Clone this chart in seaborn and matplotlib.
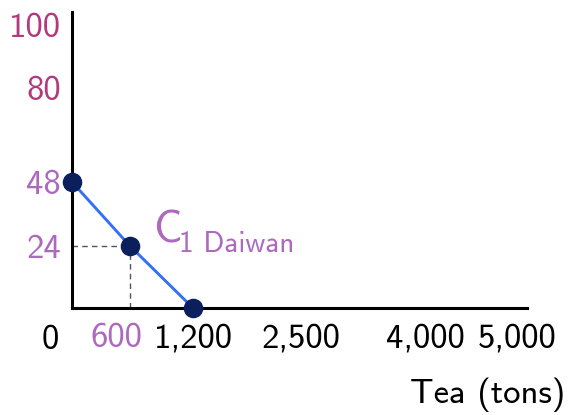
import numpy as np
import matplotlib
matplotlib.use("Agg")
import matplotlib.pyplot as plt
import matplotlib.transforms as mtransforms
import seaborn as sns

# Daiwan production points (tea in tons vs. the other good)
tea_tons = [0, 600, 1200]
other_good = [48, 24, 0]

x_ticks = [600, 1200, 2500, 4000, 5000]
x_labels = ["600", "1,200", "2,500", "4,000", "5,000"]
y_ticks = [24, 48, 80, 100]
y_labels = ["24", "48", "80", "100"]

# the original axes are schematic (not linear) -> piecewise scale
x_knots = [0, 600, 1200, 2500, 4000, 5000, 5100]
x_place = [0, 58, 121, 229, 353, 445, 455]
y_knots = [0, 24, 48, 80, 100, 105]
y_place = [0, 62, 126, 220, 283, 296]

pink = "#B23A7C"
orchid = "#AD69BE"
navy = "#0A1F5C"
blue = "#3370F5"

sns.set_style("white")
plt.rcParams['font.family'] = ['cmss10', 'DejaVu Sans']
plt.rcParams['axes.unicode_minus'] = False
plt.rcParams['text.color'] = 'black'

fig = plt.figure(figsize=(5.69, 4.15), dpi=100)
ax = fig.add_axes([72 / 569, 107 / 415, 455 / 569, 296 / 415])

# guide lines to the middle point
ax.plot([0, tea_tons[1]], [other_good[1], other_good[1]], ls=(0, (4, 3)),
        color="#555555", lw=1)
ax.plot([tea_tons[1], tea_tons[1]], [0, other_good[1]], ls=(0, (4, 3)),
        color="#555555", lw=1)

sns.lineplot(x=tea_tons, y=other_good, color=blue, lw=2.1, ax=ax)
sns.scatterplot(x=tea_tons, y=other_good, s=170, color=navy, edgecolor=navy,
                zorder=5, clip_on=False, ax=ax)

ax.set_xscale('function', functions=(lambda v: np.interp(v, x_knots, x_place),
                                     lambda v: np.interp(v, x_place, x_knots)))
ax.set_yscale('function', functions=(lambda v: np.interp(v, y_knots, y_place),
                                     lambda v: np.interp(v, y_place, y_knots)))
ax.set_xlim(0, 5100)
ax.set_ylim(0, 105)

ax.set_xticks(x_ticks, x_labels)
ax.set_yticks(y_ticks, y_labels)
ax.tick_params(axis='x', length=0, labelsize=25, pad=11)
ax.tick_params(axis='y', length=0, labelsize=25, pad=8)
ax.minorticks_off()

for lbl in ax.get_xticklabels():
    lbl.set_color(orchid if lbl.get_text() == "600" else "black")
    if lbl.get_text() == "600":
        lbl.set_transform(lbl.get_transform() +
                          mtransforms.ScaledTranslation(-0.14, 0, fig.dpi_scale_trans))
for lbl in ax.get_yticklabels():
    lbl.set_color(pink if lbl.get_text() in ("80", "100") else orchid)

sns.despine(ax=ax)
for side in ['left', 'bottom']:
    ax.spines[side].set_linewidth(2.2)
    ax.spines[side].set_color("black")
ax.grid(False)

# origin label
ax.annotate("0", xy=(0, 0), xytext=(-22, -41), textcoords="offset pixels",
            ha='center', va='baseline', fontsize=25, color="black")

# curve label C_1 Daiwan
ax.annotate("C", xy=(tea_tons[1], other_good[1]), xytext=(23, 4),
            textcoords="offset pixels", ha='left', va='baseline',
            fontsize=32, color=orchid)
ax.annotate("1 Daiwan", xy=(tea_tons[1], other_good[1]), xytext=(49, -6),
            textcoords="offset pixels", ha='left', va='baseline',
            fontsize=21, color=orchid)

fig.text(565 / 569, 1 - 403 / 415, "Tea (tons)", ha='right', va='baseline',
         fontsize=25, color="black")

fig.savefig("out.png", dpi=100)
